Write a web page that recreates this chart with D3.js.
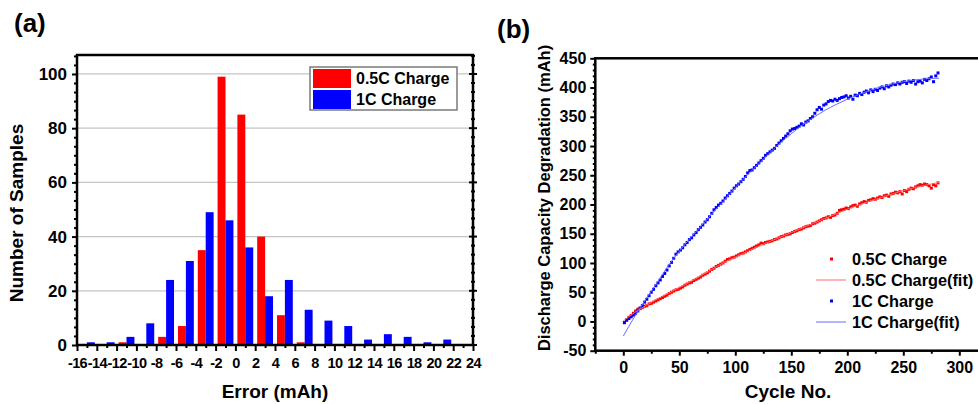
<!DOCTYPE html>
<html><head><meta charset="utf-8">
<script src="https://cdn.jsdelivr.net/npm/d3@7"></script>
<style>html,body{margin:0;padding:0;background:#fff;}svg{display:block;}</style>
</head><body>
<script>
// ---------- Panel (a) data ----------
const binCenters = [-15,-13,-11,-9,-7,-5,-3,-1,1,3,5,7,9,11,13,15,17,19,21];
const countsHalfC = [0,0,1,0,3,7,35,99,85,40,11,1,0,0,0,0,0,0,0];
const countsOneC  = [1,1,3,8,24,31,49,46,36,18,24,13,9,7,2,4,3,1,2];
const xTicksA = [-16,-14,-12,-10,-8,-6,-4,-2,0,2,4,6,8,10,12,14,16,18,20,22,24];
const yTicksA = [0,20,40,60,80,100];
const seriesNamesA = ["0.5C Charge","1C Charge"];

// ---------- Panel (b) data (every 2nd cycle, starting at cycle 1) ----------
const cycleStart = 1, cycleStep = 2;
const degHalfC = [-2,3,7,10,14,18,21,22,24,26,27,30,31,33,35,37,39,41,43,45,48,50,52,54,55,57,59,62,64,66,
67,70,72,74,76,79,81,83,86,89,91,94,96,98,100,103,106,107,109,110,112,114,116,117,119,121,123,125,127,129,
131,134,133,135,136,137,138,140,141,143,145,146,148,149,150,152,154,155,157,158,160,162,163,164,167,168,170,172,174,176,
177,179,178,181,182,185,190,191,192,194,193,196,198,199,197,201,203,205,204,207,208,210,209,211,213,212,215,216,214,218,
219,221,220,222,218,224,222,226,228,227,230,232,234,233,235,234,232,228,234,232,237];
const degOneC = [-2,2,5,8,11,14,18,23,27,33,38,44,50,55,61,66,71,77,82,88,95,101,108,115,119,122,126,131,135,140,
143,148,152,157,161,165,170,174,179,185,191,195,199,202,206,211,215,219,223,228,232,235,239,243,248,254,258,259,263,267,
271,275,279,284,287,290,293,296,301,305,309,313,317,321,326,329,330,332,334,338,336,341,343,347,350,356,362,366,363,370,
372,376,378,377,380,378,381,383,384,386,382,385,380,387,386,390,388,392,394,391,396,393,397,395,399,401,398,403,401,404,
406,405,408,406,409,410,407,411,409,412,406,410,411,408,414,412,415,418,410,420,425];
// fitted curves
const fitCycles = [0,10,20,30,40,50,60,70,80,90,100,110,120,130,140,150,160,170,180,190,200,210,220,230,240,250,260,270,282];
const fitHalfC  = [1,15,27,38,48,58,68,79,90,101,110,119,128,136,144,152,160,168,176,184,192,199,206,212,218,224,229,233,238];
const fitOneC   = [-25,8,38,66,95,120,143,164,186,207,229,249,268,287,305,321,336,349,361,371,380,388,395,401,406,410,413,415,416];
const xTicksB = [0,50,100,150,200,250,300];
const yTicksB = [-50,0,50,100,150,200,250,300,350,400,450];
const legendB = ["0.5C Charge","0.5C Charge(fit)","1C Charge","1C Charge(fit)"];

const FONT = '"Liberation Sans", Arial, Helvetica, sans-serif';
const RED = "#ff0000", BLUE = "#0000ff";

const svg = d3.select("body").append("svg").attr("width",978).attr("height",404)
  .attr("font-family",FONT).attr("font-weight","bold");

function styleAxis(g, size){
  g.select(".domain").remove();
  g.selectAll("line").attr("stroke","#000").attr("stroke-width",2);
  g.selectAll("text").attr("font-size",size).attr("font-weight","bold").attr("fill","#000").attr("font-family",FONT);
}

// ================= Panel (a) =================
(function(){
  const L=77,R=473,T=55,B=345;
  const x = d3.scaleLinear().domain([-16,24]).range([L,R]);
  const y = d3.scaleLinear().domain([0,107]).range([B,T]);
  const g = svg.append("g");

  g.append("g").selectAll("line").data(yTicksA.filter(d=>d>0)).join("line")
    .attr("x1",L).attr("x2",R).attr("y1",d=>y(d)).attr("y2",d=>y(d))
    .attr("stroke","#c4c4c4").attr("stroke-width",1.2);

  g.append("g").selectAll("rect").data(binCenters).join("rect")
    .attr("x",(d)=>x(d-0.8)).attr("width",(d)=>x(d)-x(d-0.8))
    .attr("y",(d,i)=>y(countsHalfC[i])).attr("height",(d,i)=>B-y(countsHalfC[i]))
    .attr("fill",RED);
  g.append("g").selectAll("rect").data(binCenters).join("rect")
    .attr("x",(d)=>x(d)).attr("width",(d)=>x(d+0.8)-x(d))
    .attr("y",(d,i)=>y(countsOneC[i])).attr("height",(d,i)=>B-y(countsOneC[i]))
    .attr("fill",BLUE);

  const minorY = d3.range(0,107.01,20/6).filter(v=>yTicksA.every(t=>Math.abs(t-v)>0.01));
  g.append("g").attr("transform",`translate(${L},0)`)
    .call(d3.axisLeft(y).tickValues(minorY).tickSize(3).tickFormat(""))
    .call(s=>styleAxis(s,17));
  g.append("g").attr("transform",`translate(${L},0)`)
    .call(d3.axisLeft(y).tickValues(yTicksA).tickSize(5).tickPadding(5).tickFormat(d=>String(d)))
    .call(s=>styleAxis(s,17));
  g.append("g").selectAll("line").data(yTicksA).join("line")
    .attr("x1",R-4).attr("x2",R+4).attr("y1",d=>y(d)).attr("y2",d=>y(d)).attr("stroke","#000").attr("stroke-width",2);
  g.append("g").selectAll("line").data(minorY).join("line")
    .attr("x1",R-2).attr("x2",R+2).attr("y1",d=>y(d)).attr("y2",d=>y(d)).attr("stroke","#000").attr("stroke-width",2);

  g.append("g").attr("transform",`translate(0,${B})`)
    .call(d3.axisBottom(x).tickValues(binCenters.concat([23])).tickSize(3).tickFormat(""))
    .call(s=>styleAxis(s,16));
  g.append("g").attr("transform",`translate(0,${B})`)
    .call(d3.axisBottom(x).tickValues(xTicksA).tickSize(6).tickPadding(7).tickFormat(d=>String(d)))
    .call(s=>styleAxis(s,14.5))
    .call(s=>s.selectAll("text").attr("letter-spacing","-0.6px"));

  g.append("rect").attr("x",L).attr("y",T).attr("width",R-L).attr("height",B-T)
    .attr("fill","none").attr("stroke","#000").attr("stroke-width",2.5);

  const lg = g.append("g");
  lg.append("rect").attr("x",310).attr("y",67).attr("width",147).attr("height",43)
    .attr("fill","#fff").attr("stroke","#7a7a7a").attr("stroke-width",1.5);
  [RED,BLUE].forEach((c,i)=>{
    lg.append("rect").attr("x",313).attr("y",69+i*21).attr("width",38).attr("height",19).attr("fill",c);
    lg.append("text").attr("x",356).attr("y",84+i*21).attr("font-size",16).text(seriesNamesA[i]);
  });

  g.append("text").attr("transform",`translate(23,213) rotate(-90)`).attr("text-anchor","middle")
    .attr("font-size",19).text("Number of Samples");
  g.append("text").attr("x",(L+R)/2).attr("y",398).attr("text-anchor","middle").attr("font-size",19).text("Error (mAh)");
  g.append("text").attr("x",14).attr("y",32).attr("font-size",26).text("(a)");
})();

// ================= Panel (b) =================
(function(){
  const L=595.3,T=58.3,B=350.7,Rr=987.3;
  const x = d3.scaleLinear().domain([-25,325]).range([L,Rr]);
  const y = d3.scaleLinear().domain([-50,450]).range([B,T]);
  const g = svg.append("g");

  const minorY = d3.range(-50,450.01,10).filter(v=>v%50!==0);
  g.append("g").attr("transform",`translate(${L},0)`)
    .call(d3.axisLeft(y).tickValues(minorY).tickSize(2.5).tickFormat(""))
    .call(s=>styleAxis(s,16));
  g.append("g").attr("transform",`translate(${L},0)`)
    .call(d3.axisLeft(y).tickValues(yTicksB).tickSize(5).tickPadding(4).tickFormat(d=>String(d)))
    .call(s=>styleAxis(s,16));
  g.append("g").attr("transform",`translate(0,${B})`)
    .call(d3.axisBottom(x).tickValues([-25,25,75,125,175,225,275]).tickSize(3).tickFormat(""))
    .call(s=>styleAxis(s,16));
  g.append("g").attr("transform",`translate(0,${B})`)
    .call(d3.axisBottom(x).tickValues(xTicksB).tickSize(5).tickPadding(6).tickFormat(d=>String(d)))
    .call(s=>styleAxis(s,16));

  const cyc = i => cycleStart + i*cycleStep;
  const s = 3;
  g.append("g").selectAll("rect").data(degHalfC).join("rect")
    .attr("x",(d,i)=>x(cyc(i))-s/2).attr("y",d=>y(d)-s/2).attr("width",s).attr("height",s).attr("fill",RED);
  g.append("g").selectAll("rect").data(degOneC).join("rect")
    .attr("x",(d,i)=>x(cyc(i))-s/2).attr("y",d=>y(d)-s/2).attr("width",s).attr("height",s).attr("fill",BLUE);

  const line = d3.line().x((d,i)=>x(fitCycles[i])).y(d=>y(d)).curve(d3.curveMonotoneX);
  g.append("path").attr("d",line(fitHalfC)).attr("fill","none").attr("stroke","#ff6a6a").attr("stroke-width",1);
  g.append("path").attr("d",line(fitOneC)).attr("fill","none").attr("stroke","#6a6aff").attr("stroke-width",1);

  g.append("rect").attr("x",L).attr("y",T).attr("width",Rr-L).attr("height",B-T)
    .attr("fill","none").attr("stroke","#000").attr("stroke-width",2.5);

  const rows=[259,280,301,322];
  const lg = g.append("g");
  legendB.forEach((t,i)=>{
    const col = i<2?RED:BLUE;
    if(i%2===0){
      lg.append("rect").attr("x",830).attr("y",rows[i]-1.5).attr("width",3).attr("height",3).attr("fill",col);
    } else {
      lg.append("line").attr("x1",816).attr("x2",846).attr("y1",rows[i]).attr("y2",rows[i])
        .attr("stroke",i<2?"#ff6a6a":"#6a6aff").attr("stroke-width",1);
    }
    lg.append("text").attr("x",852).attr("y",rows[i]+6).attr("font-size",16.3).text(t);
  });

  g.append("text").attr("transform",`translate(550,198) rotate(-90)`).attr("text-anchor","middle")
    .attr("font-size",16.5).text("Discharge Capacity Degradation (mAh)");
  g.append("text").attr("x",788).attr("y",398).attr("text-anchor","middle").attr("font-size",19).text("Cycle No.");
  g.append("text").attr("x",497).attr("y",38).attr("font-size",26).text("(b)");
})();
</script>
</body></html>
